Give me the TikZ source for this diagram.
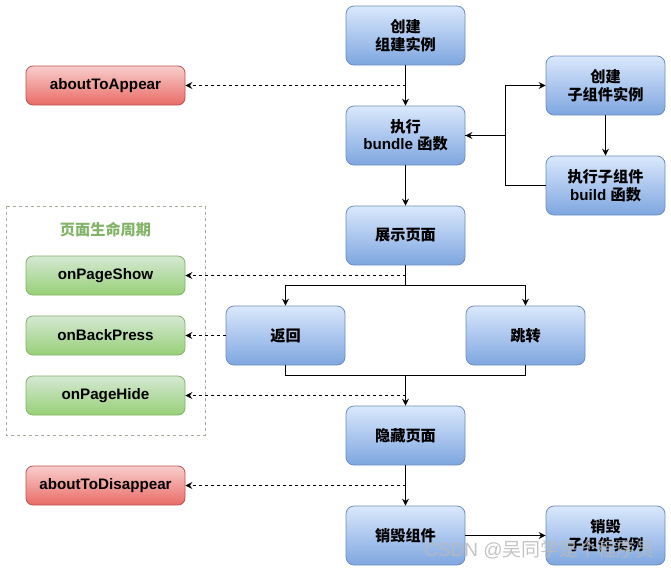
\documentclass[tikz,border=0pt]{standalone}
\usepackage{fontspec}
\setmainfont{Liberation Sans}
\newfontfamily\cjk{Noto Sans CJK SC}
\usetikzlibrary{arrows.meta,calc}
\definecolor{bluetop}{HTML}{DAE8FC}
\definecolor{bluebot}{HTML}{7EA6E0}
\definecolor{blueline}{HTML}{6C8EBF}
\definecolor{redtop}{HTML}{F8CECC}
\definecolor{redbot}{HTML}{EA6B66}
\definecolor{redline}{HTML}{B85450}
\definecolor{greentop}{HTML}{D5E8D4}
\definecolor{greenbot}{HTML}{97D077}
\definecolor{greenline}{HTML}{82B366}
\definecolor{grouptitle}{HTML}{82B366}
\definecolor{groupline}{HTML}{A3AD9C}
\begin{document}
\begin{tikzpicture}[x=1pt,y=-1pt,
  every node/.style={font=\fontsize{15.2}{17.5}\selectfont\bfseries, align=center, inner sep=0pt},
  bluebox/.style={rounded corners=8pt, draw=blueline, line width=0.8pt, top color=bluetop, bottom color=bluebot, minimum width=119pt, minimum height=59pt},
  redbox/.style={rounded corners=7pt, draw=redline, line width=0.8pt, top color=redtop, bottom color=redbot, minimum width=159pt, minimum height=39pt},
  greenbox/.style={rounded corners=7pt, draw=greenline, line width=0.8pt, top color=greentop, bottom color=greenbot, minimum width=159pt, minimum height=39pt},
  arr/.style={draw=black, line width=1pt, -{Stealth[length=7pt,width=7pt,inset=2.5pt]}},
  dasharr/.style={arr, dash pattern=on 3pt off 3pt},
  plain/.style={draw=black, line width=1pt}
]
\useasboundingbox (0,0) rectangle (671,571);
% group box
\draw[groupline, dash pattern=on 3pt off 3pt, line width=0.8pt] (6,206) rectangle (205,435);
\node[text=grouptitle] (gt) at (105.5,230) {\cjk 页面生命周期};

% main nodes
\node[bluebox] (c1) at (405.5,35.5) {{\cjk 创建}\\{\cjk 组建实例}};
\node[bluebox] (b1) at (405.5,135.5) {{\cjk 执行}\\bundle {\cjk 函数}};
\node[bluebox] (show) at (405.5,235.5) {\cjk 展示页面};
\node[bluebox] (back) at (285.5,335.5) {\cjk 返回};
\node[bluebox] (jump) at (525.5,335.5) {\cjk 跳转};
\node[bluebox] (hide) at (405.5,435.5) {\cjk 隐藏页面};
\node[bluebox] (destroy) at (405.5,535.5) {\cjk 销毁组件};
\node[bluebox] (dchild) at (605.5,535.5) {{\cjk 销毁}\\{\cjk 子组件实例}};
\node[bluebox] (cc) at (605.5,85.5) {{\cjk 创建}\\{\cjk 子组件实例}};
\node[bluebox] (cb) at (605.5,185.5) {{\cjk 执行子组件}\\build {\cjk 函数}};

% lifecycle nodes
\node[redbox] (a1) at (105.5,85.5) {aboutToAppear};
\node[greenbox] (ps) at (105.5,275.5) {onPageShow};
\node[greenbox] (bp) at (105.5,335.5) {onBackPress};
\node[greenbox] (ph) at (105.5,395.5) {onPageHide};
\node[redbox] (ad) at (105.5,485.5) {aboutToDisappear};

% junctions
\coordinate (j1) at (505.5,135.5);
\coordinate (j2) at (405.5,285.5);
\coordinate (j3) at (405.5,375.5);

% connectors
\draw[arr] (c1) -- (b1);
\draw[dasharr] (a1.east -| c1.south) -- (a1.east);
\draw[arr] (b1.east) -- (j1) |- (cc.west);
\draw[arr] (cc) -- (cb);
\draw[arr] (cb.west) -| (j1) -- (b1.east);
\draw[arr] (b1) -- (show);
\draw[plain] (show.south) -- (j2);
\draw[arr] (j2) -| (back.north);
\draw[arr] (j2) -| (jump.north);
\draw[dasharr] (ps.east -| show.south) -- (ps.east);
\draw[dasharr] (back.west) -- (bp.east);
\draw[plain] (back.south) |- (j3);
\draw[plain] (jump.south) |- (j3);
\draw[arr] (j3) -- (hide.north);
\draw[dasharr] (ph.east -| hide.north) -- (ph.east);
\draw[arr] (hide) -- (destroy);
\draw[dasharr] (ad.east -| destroy.north) -- (ad.east);
\draw[arr] (destroy) -- (dchild);

% watermark
\node[font=\fontsize{19}{21}\selectfont, text=gray!55, opacity=0.85] (wm) at (539.5,550) {CSDN @{\cjk 吴同学是个程序员}};
\end{tikzpicture}
\end{document}
